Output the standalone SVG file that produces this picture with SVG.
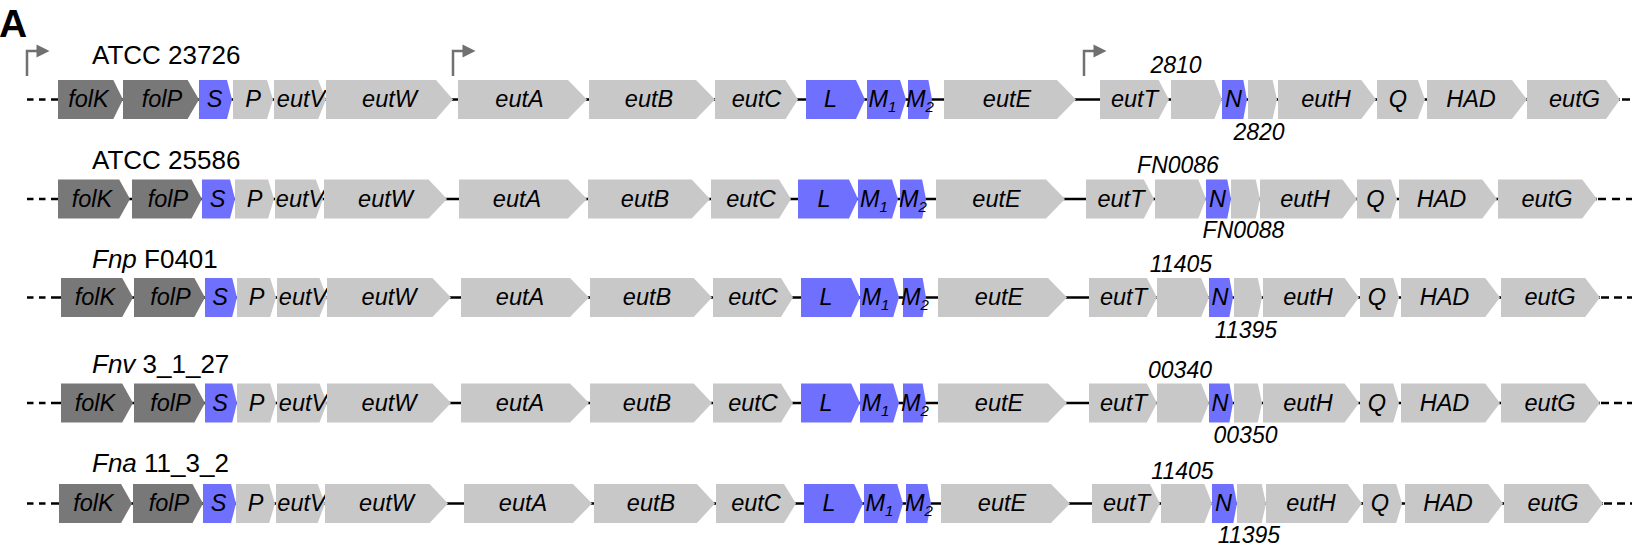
<svg xmlns="http://www.w3.org/2000/svg" width="1632" height="550" viewBox="0 0 1632 550">
  <style>
    .dk { fill: #787878; }
    .lt { fill: #c8c8c8; }
    .bl { fill: #7070ff; }
    .g { font-family: "Liberation Sans", Arial, sans-serif; font-style: italic; font-size: 23.5px; text-anchor: middle; fill: #000; }
    .sub { font-size: 15px; }
    .strain { font-family: "Liberation Sans", Arial, sans-serif; font-size: 26px; fill: #000; }
    .it { font-style: italic; }
    .locus { font-family: "Liberation Sans", Arial, sans-serif; font-style: italic; font-size: 23px; text-anchor: middle; fill: #000; }
    .panel { font-family: "Liberation Sans", Arial, sans-serif; font-weight: bold; font-size: 39px; fill: #000; }
    .bb { stroke: #000; stroke-width: 2.5; fill: none; }
    .prom { stroke: #707070; stroke-width: 2.5; fill: none; }
    .promhead { fill: #707070; }
  </style>

  <text class="panel" x="-1" y="36.5">A</text>

  <!-- transcription start sites (row 1 only) -->
  <g id="promoters">
    <path class="prom" d="M27,76 V51 H37"/>
    <polygon class="promhead" points="36.5,44.5 49.5,51 36.5,57.5"/>
    <path class="prom" d="M453,76 V51 H463"/>
    <polygon class="promhead" points="462.5,44.5 475.5,51 462.5,57.5"/>
    <path class="prom" d="M1084,76 V51 H1094"/>
    <polygon class="promhead" points="1093.5,44.5 1106.5,51 1093.5,57.5"/>
  </g>

  <!-- backbone lines and dashed ends for each locus -->
  <g id="connectors">
    <g transform="translate(0,80)">
      <path class="bb" d="M58,19.5 H1620"/>
      <path class="bb" d="M27,19.5h6.5 M39,19.5h6.5 M51,19.5H58"/>
      <path class="bb" d="M1622,19.5h8"/>
    </g>
    <g transform="translate(0,179.5)">
      <path class="bb" d="M58,19.5 H1597"/>
      <path class="bb" d="M27,19.5h6.5 M39,19.5h6.5 M51,19.5H58"/>
      <path class="bb" d="M1598,19.5h8 M1612,19.5h8 M1626,19.5H1632"/>
    </g>
    <g transform="translate(0,278)">
      <path class="bb" d="M61,19.5 H1600"/>
      <path class="bb" d="M27,19.5h6.5 M39,19.5h6.5 M51,19.5H61"/>
      <path class="bb" d="M1601,19.5h8 M1614,19.5h8 M1627,19.5H1632"/>
    </g>
    <g transform="translate(0,383.5)">
      <path class="bb" d="M61,19.5 H1600"/>
      <path class="bb" d="M27,19.5h6.5 M39,19.5h6.5 M51,19.5H61"/>
      <path class="bb" d="M1601,19.5h8 M1614,19.5h8 M1627,19.5H1632"/>
    </g>
    <g transform="translate(0,484)">
      <path class="bb" d="M59,19.5 H1603"/>
      <path class="bb" d="M27,19.5h6.5 M39,19.5h6.5 M51,19.5H59"/>
      <path class="bb" d="M1604,19.5h8 M1617,19.5h8 M1630,19.5H1632"/>
    </g>
  </g>

  <!-- locus 1: ATCC 23726 -->
  <g id="row1" transform="translate(0,80)">
    <text class="strain" x="92" y="-16">ATCC 23726</text>
    <text class="locus" x="1176" y="-7">2810</text>
    <text class="locus" x="1259" y="60">2820</text>
    <g id="r1-folK"><polygon class="dk" points="58,0 113.3,0 123,19.5 113.3,39 58,39"/><text class="g" x="88.5" y="27">folK</text></g>
    <g id="r1-folP"><polygon class="dk" points="123,0 187.6,0 199,19.5 187.6,39 123,39"/><text class="g" x="162" y="27">folP</text></g>
    <g id="r1-S"><polygon class="bl" points="199,0 227,0 232,19.5 227,39 199,39"/><text class="g" x="214.5" y="27">S</text></g>
    <g id="r1-P"><polygon class="lt" points="233,0 267,0 273,19.5 267,39 233,39"/><text class="g" x="253" y="27">P</text></g>
    <g id="r1-eutV"><polygon class="lt" points="274,0 318.2,0 326,19.5 318.2,39 274,39"/><text class="g" x="301" y="27">eutV</text></g>
    <g id="r1-eutW"><polygon class="lt" points="326,0 436,0 453,19.5 436,39 326,39"/><text class="g" x="389.5" y="27">eutW</text></g>
    <g id="r1-eutA"><polygon class="lt" points="458,0 568,0 587,19.5 568,39 458,39"/><text class="g" x="519.5" y="27">eutA</text></g>
    <g id="r1-eutB"><polygon class="lt" points="589,0 696,0 715,19.5 696,39 589,39"/><text class="g" x="649" y="27">eutB</text></g>
    <g id="r1-eutC"><polygon class="lt" points="715,0 785.5,0 798,19.5 785.5,39 715,39"/><text class="g" x="756.5" y="27">eutC</text></g>
    <g id="r1-L"><polygon class="bl" points="806,0 856,0 865,19.5 856,39 806,39"/><text class="g" x="830.5" y="27">L</text></g>
    <g id="r1-M1"><polygon class="bl" points="867,0 900,0 906,19.5 900,39 867,39"/><text class="g" x="882.5" y="27">M<tspan class="sub" dy="5">1</tspan></text></g>
    <g id="r1-M2"><polygon class="bl" points="908,0 928.4,0 932,19.5 928.4,39 908,39"/><text class="g" x="920" y="27">M<tspan class="sub" dy="5">2</tspan></text></g>
    <g id="r1-eutE"><polygon class="lt" points="944,0 1057,0 1076,19.5 1057,39 944,39"/><text class="g" x="1007" y="27">eutE</text></g>
    <g id="r1-eutT"><polygon class="lt" points="1100,0 1158.6,0 1169,19.5 1158.6,39 1100,39"/><text class="g" x="1134.5" y="27">eutT</text></g>
    <g id="r1-2810"><polygon class="lt" points="1171,0 1214.3,0 1222,19.5 1214.3,39 1171,39"/></g>
    <g id="r1-N"><polygon class="bl" points="1222,0 1243.3,0 1247,19.5 1243.3,39 1222,39"/><text class="g" x="1233.5" y="27">N</text></g>
    <g id="r1-2820"><polygon class="lt" points="1248,0 1272.6,0 1277,19.5 1272.6,39 1248,39"/></g>
    <g id="r1-eutH"><polygon class="lt" points="1278,0 1361.3,0 1376,19.5 1361.3,39 1278,39"/><text class="g" x="1326" y="27">eutH</text></g>
    <g id="r1-Q"><polygon class="lt" points="1377,0 1417.8,0 1425,19.5 1417.8,39 1377,39"/><text class="g" x="1398" y="27">Q</text></g>
    <g id="r1-HAD"><polygon class="lt" points="1427,0 1512,0 1527,19.5 1512,39 1427,39"/><text class="g" x="1471" y="27">HAD</text></g>
    <g id="r1-eutG"><polygon class="lt" points="1527,0 1606,0 1620,19.5 1606,39 1527,39"/><text class="g" x="1574.5" y="27">eutG</text></g>
  </g>

  <!-- locus 2: ATCC 25586 -->
  <g id="row2" transform="translate(0,179.5)">
    <text class="strain" x="92" y="-10.5">ATCC 25586</text>
    <text class="locus" x="1178" y="-6.5">FN0086</text>
    <text class="locus" x="1243.5" y="58.5">FN0088</text>
    <g id="r2-folK"><polygon class="dk" points="58,0 119.2,0 130,19.5 119.2,39 58,39"/><text class="g" x="92" y="27">folK</text></g>
    <g id="r2-folP"><polygon class="dk" points="132,0 191.5,0 202,19.5 191.5,39 132,39"/><text class="g" x="168" y="27">folP</text></g>
    <g id="r2-S"><polygon class="bl" points="202,0 230,0 235,19.5 230,39 202,39"/><text class="g" x="217.5" y="27">S</text></g>
    <g id="r2-P"><polygon class="lt" points="235,0 268.1,0 274,19.5 268.1,39 235,39"/><text class="g" x="254.5" y="27">P</text></g>
    <g id="r2-eutV"><polygon class="lt" points="275,0 315.8,0 323,19.5 315.8,39 275,39"/><text class="g" x="300" y="27">eutV</text></g>
    <g id="r2-eutW"><polygon class="lt" points="324,0 428.5,0 447,19.5 428.5,39 324,39"/><text class="g" x="385.5" y="27">eutW</text></g>
    <g id="r2-eutA"><polygon class="lt" points="459,0 568,0 587,19.5 568,39 459,39"/><text class="g" x="517" y="27">eutA</text></g>
    <g id="r2-eutB"><polygon class="lt" points="588,0 691.7,0 710,19.5 691.7,39 588,39"/><text class="g" x="645" y="27">eutB</text></g>
    <g id="r2-eutC"><polygon class="lt" points="711,0 779,0 791,19.5 779,39 711,39"/><text class="g" x="751" y="27">eutC</text></g>
    <g id="r2-L"><polygon class="bl" points="798,0 849,0 858,19.5 849,39 798,39"/><text class="g" x="824" y="27">L</text></g>
    <g id="r2-M1"><polygon class="bl" points="858,0 892,0 898,19.5 892,39 858,39"/><text class="g" x="874" y="27">M<tspan class="sub" dy="5">1</tspan></text></g>
    <g id="r2-M2"><polygon class="bl" points="900,0 922.1,0 926,19.5 922.1,39 900,39"/><text class="g" x="913" y="27">M<tspan class="sub" dy="5">2</tspan></text></g>
    <g id="r2-eutE"><polygon class="lt" points="936,0 1046,0 1065,19.5 1046,39 936,39"/><text class="g" x="996.5" y="27">eutE</text></g>
    <g id="r2-eutT"><polygon class="lt" points="1086,0 1143.8,0 1154,19.5 1143.8,39 1086,39"/><text class="g" x="1121" y="27">eutT</text></g>
    <g id="r2-FN0086"><polygon class="lt" points="1155,0 1198.3,0 1206,19.5 1198.3,39 1155,39"/></g>
    <g id="r2-N"><polygon class="bl" points="1206,0 1227.3,0 1231,19.5 1227.3,39 1206,39"/><text class="g" x="1217.5" y="27">N</text></g>
    <g id="r2-FN0088"><polygon class="lt" points="1231,0 1255.7,0 1260,19.5 1255.7,39 1231,39"/></g>
    <g id="r2-eutH"><polygon class="lt" points="1260,0 1342.5,0 1357,19.5 1342.5,39 1260,39"/><text class="g" x="1305" y="27">eutH</text></g>
    <g id="r2-Q"><polygon class="lt" points="1357,0 1391,0 1397,19.5 1391,39 1357,39"/><text class="g" x="1375.5" y="27">Q</text></g>
    <g id="r2-HAD"><polygon class="lt" points="1399,0 1482.3,0 1497,19.5 1482.3,39 1399,39"/><text class="g" x="1441.5" y="27">HAD</text></g>
    <g id="r2-eutG"><polygon class="lt" points="1498,0 1582.2,0 1597,19.5 1582.2,39 1498,39"/><text class="g" x="1547" y="27">eutG</text></g>
  </g>

  <!-- locus 3: Fnp F0401 -->
  <g id="row3" transform="translate(0,278)">
    <text class="strain" x="92" y="-10"><tspan class="it">Fnp</tspan> F0401</text>
    <text class="locus" x="1181" y="-6">11405</text>
    <text class="locus" x="1246" y="60">11395</text>
    <g id="r3-folK"><polygon class="dk" points="61,0 122.2,0 133,19.5 122.2,39 61,39"/><text class="g" x="95" y="27">folK</text></g>
    <g id="r3-folP"><polygon class="dk" points="134,0 194.4,0 205,19.5 194.4,39 134,39"/><text class="g" x="170.5" y="27">folP</text></g>
    <g id="r3-S"><polygon class="bl" points="205,0 232.2,0 237,19.5 232.2,39 205,39"/><text class="g" x="220" y="27">S</text></g>
    <g id="r3-P"><polygon class="lt" points="237,0 270.2,0 276,19.5 270.2,39 237,39"/><text class="g" x="256.5" y="27">P</text></g>
    <g id="r3-eutV"><polygon class="lt" points="277,0 319.5,0 327,19.5 319.5,39 277,39"/><text class="g" x="303" y="27">eutV</text></g>
    <g id="r3-eutW"><polygon class="lt" points="327,0 432.4,0 451,19.5 432.4,39 327,39"/><text class="g" x="389" y="27">eutW</text></g>
    <g id="r3-eutA"><polygon class="lt" points="461,0 570,0 589,19.5 570,39 461,39"/><text class="g" x="520" y="27">eutA</text></g>
    <g id="r3-eutB"><polygon class="lt" points="590,0 693.7,0 712,19.5 693.7,39 590,39"/><text class="g" x="647" y="27">eutB</text></g>
    <g id="r3-eutC"><polygon class="lt" points="713,0 781,0 793,19.5 781,39 713,39"/><text class="g" x="753" y="27">eutC</text></g>
    <g id="r3-L"><polygon class="bl" points="801,0 851.2,0 860,19.5 851.2,39 801,39"/><text class="g" x="826" y="27">L</text></g>
    <g id="r3-M1"><polygon class="bl" points="860,0 893.2,0 899,19.5 893.2,39 860,39"/><text class="g" x="875.5" y="27">M<tspan class="sub" dy="5">1</tspan></text></g>
    <g id="r3-M2"><polygon class="bl" points="903,0 922.6,0 926,19.5 922.6,39 903,39"/><text class="g" x="915" y="27">M<tspan class="sub" dy="5">2</tspan></text></g>
    <g id="r3-eutE"><polygon class="lt" points="938,0 1048,0 1067,19.5 1048,39 938,39"/><text class="g" x="999" y="27">eutE</text></g>
    <g id="r3-eutT"><polygon class="lt" points="1089,0 1146.8,0 1157,19.5 1146.8,39 1089,39"/><text class="g" x="1123.5" y="27">eutT</text></g>
    <g id="r3-11405"><polygon class="lt" points="1157,0 1201.2,0 1209,19.5 1201.2,39 1157,39"/></g>
    <g id="r3-N"><polygon class="bl" points="1209,0 1229.4,0 1233,19.5 1229.4,39 1209,39"/><text class="g" x="1220" y="27">N</text></g>
    <g id="r3-11395"><polygon class="lt" points="1234,0 1257.8,0 1262,19.5 1257.8,39 1234,39"/></g>
    <g id="r3-eutH"><polygon class="lt" points="1263,0 1344.6,0 1359,19.5 1344.6,39 1263,39"/><text class="g" x="1308" y="27">eutH</text></g>
    <g id="r3-Q"><polygon class="lt" points="1360,0 1393.2,0 1399,19.5 1393.2,39 1360,39"/><text class="g" x="1377" y="27">Q</text></g>
    <g id="r3-HAD"><polygon class="lt" points="1401,0 1485.2,0 1500,19.5 1485.2,39 1401,39"/><text class="g" x="1444.5" y="27">HAD</text></g>
    <g id="r3-eutG"><polygon class="lt" points="1501,0 1585.2,0 1600,19.5 1585.2,39 1501,39"/><text class="g" x="1550" y="27">eutG</text></g>
  </g>

  <!-- locus 4: Fnv 3_1_27 -->
  <g id="row4" transform="translate(0,383.5)">
    <text class="strain" x="92" y="-10.8"><tspan class="it">Fnv</tspan> 3_1_27</text>
    <text class="locus" x="1180" y="-5.5">00340</text>
    <text class="locus" x="1245.5" y="59.5">00350</text>
    <g id="r4-folK"><polygon class="dk" points="61,0 122.2,0 133,19.5 122.2,39 61,39"/><text class="g" x="95" y="27">folK</text></g>
    <g id="r4-folP"><polygon class="dk" points="134,0 194.4,0 205,19.5 194.4,39 134,39"/><text class="g" x="170.5" y="27">folP</text></g>
    <g id="r4-S"><polygon class="bl" points="205,0 232.2,0 237,19.5 232.2,39 205,39"/><text class="g" x="220" y="27">S</text></g>
    <g id="r4-P"><polygon class="lt" points="237,0 270.2,0 276,19.5 270.2,39 237,39"/><text class="g" x="256.5" y="27">P</text></g>
    <g id="r4-eutV"><polygon class="lt" points="277,0 319.5,0 327,19.5 319.5,39 277,39"/><text class="g" x="303" y="27">eutV</text></g>
    <g id="r4-eutW"><polygon class="lt" points="327,0 432.4,0 451,19.5 432.4,39 327,39"/><text class="g" x="389" y="27">eutW</text></g>
    <g id="r4-eutA"><polygon class="lt" points="461,0 570,0 589,19.5 570,39 461,39"/><text class="g" x="520" y="27">eutA</text></g>
    <g id="r4-eutB"><polygon class="lt" points="590,0 693.7,0 712,19.5 693.7,39 590,39"/><text class="g" x="647" y="27">eutB</text></g>
    <g id="r4-eutC"><polygon class="lt" points="713,0 781,0 793,19.5 781,39 713,39"/><text class="g" x="753" y="27">eutC</text></g>
    <g id="r4-L"><polygon class="bl" points="801,0 851.2,0 860,19.5 851.2,39 801,39"/><text class="g" x="826" y="27">L</text></g>
    <g id="r4-M1"><polygon class="bl" points="860,0 893.2,0 899,19.5 893.2,39 860,39"/><text class="g" x="875.5" y="27">M<tspan class="sub" dy="5">1</tspan></text></g>
    <g id="r4-M2"><polygon class="bl" points="903,0 922.6,0 926,19.5 922.6,39 903,39"/><text class="g" x="915" y="27">M<tspan class="sub" dy="5">2</tspan></text></g>
    <g id="r4-eutE"><polygon class="lt" points="938,0 1048,0 1067,19.5 1048,39 938,39"/><text class="g" x="999" y="27">eutE</text></g>
    <g id="r4-eutT"><polygon class="lt" points="1089,0 1146.8,0 1157,19.5 1146.8,39 1089,39"/><text class="g" x="1123.5" y="27">eutT</text></g>
    <g id="r4-00340"><polygon class="lt" points="1157,0 1201.2,0 1209,19.5 1201.2,39 1157,39"/></g>
    <g id="r4-N"><polygon class="bl" points="1209,0 1229.4,0 1233,19.5 1229.4,39 1209,39"/><text class="g" x="1220" y="27">N</text></g>
    <g id="r4-00350"><polygon class="lt" points="1234,0 1257.8,0 1262,19.5 1257.8,39 1234,39"/></g>
    <g id="r4-eutH"><polygon class="lt" points="1263,0 1344.6,0 1359,19.5 1344.6,39 1263,39"/><text class="g" x="1308" y="27">eutH</text></g>
    <g id="r4-Q"><polygon class="lt" points="1360,0 1393.2,0 1399,19.5 1393.2,39 1360,39"/><text class="g" x="1377" y="27">Q</text></g>
    <g id="r4-HAD"><polygon class="lt" points="1401,0 1485.2,0 1500,19.5 1485.2,39 1401,39"/><text class="g" x="1444.5" y="27">HAD</text></g>
    <g id="r4-eutG"><polygon class="lt" points="1501,0 1585.2,0 1600,19.5 1585.2,39 1501,39"/><text class="g" x="1550" y="27">eutG</text></g>
  </g>

  <!-- locus 5: Fna 11_3_2 -->
  <g id="row5" transform="translate(0,484)">
    <text class="strain" x="92" y="-12"><tspan class="it">Fna</tspan> 11_3_2</text>
    <text class="locus" x="1182.5" y="-5">11405</text>
    <text class="locus" x="1249" y="59">11395</text>
    <g id="r5-folK"><polygon class="dk" points="59,0 121.1,0 132,19.5 121.1,39 59,39"/><text class="g" x="93.5" y="27">folK</text></g>
    <g id="r5-folP"><polygon class="dk" points="133,0 192.5,0 203,19.5 192.5,39 133,39"/><text class="g" x="169" y="27">folP</text></g>
    <g id="r5-S"><polygon class="bl" points="203,0 231,0 236,19.5 231,39 203,39"/><text class="g" x="218.5" y="27">S</text></g>
    <g id="r5-P"><polygon class="lt" points="236,0 269.2,0 275,19.5 269.2,39 236,39"/><text class="g" x="255.5" y="27">P</text></g>
    <g id="r5-eutV"><polygon class="lt" points="276,0 317.7,0 325,19.5 317.7,39 276,39"/><text class="g" x="301.5" y="27">eutV</text></g>
    <g id="r5-eutW"><polygon class="lt" points="325,0 429.6,0 448,19.5 429.6,39 325,39"/><text class="g" x="386.5" y="27">eutW</text></g>
    <g id="r5-eutA"><polygon class="lt" points="464,0 573,0 592,19.5 573,39 464,39"/><text class="g" x="523" y="27">eutA</text></g>
    <g id="r5-eutB"><polygon class="lt" points="594,0 696.9,0 715,19.5 696.9,39 594,39"/><text class="g" x="651" y="27">eutB</text></g>
    <g id="r5-eutC"><polygon class="lt" points="716,0 784,0 796,19.5 784,39 716,39"/><text class="g" x="756" y="27">eutC</text></g>
    <g id="r5-L"><polygon class="bl" points="804,0 854.2,0 863,19.5 854.2,39 804,39"/><text class="g" x="829" y="27">L</text></g>
    <g id="r5-M1"><polygon class="bl" points="864,0 897.2,0 903,19.5 897.2,39 864,39"/><text class="g" x="879.5" y="27">M<tspan class="sub" dy="5">1</tspan></text></g>
    <g id="r5-M2"><polygon class="bl" points="906,0 927.3,0 931,19.5 927.3,39 906,39"/><text class="g" x="919" y="27">M<tspan class="sub" dy="5">2</tspan></text></g>
    <g id="r5-eutE"><polygon class="lt" points="941,0 1051,0 1070,19.5 1051,39 941,39"/><text class="g" x="1002" y="27">eutE</text></g>
    <g id="r5-eutT"><polygon class="lt" points="1092,0 1149.8,0 1160,19.5 1149.8,39 1092,39"/><text class="g" x="1126.5" y="27">eutT</text></g>
    <g id="r5-11405"><polygon class="lt" points="1161,0 1204.4,0 1212,19.5 1204.4,39 1161,39"/></g>
    <g id="r5-N"><polygon class="bl" points="1212,0 1233.3,0 1237,19.5 1233.3,39 1212,39"/><text class="g" x="1223.5" y="27">N</text></g>
    <g id="r5-11395"><polygon class="lt" points="1237,0 1261.7,0 1266,19.5 1261.7,39 1237,39"/></g>
    <g id="r5-eutH"><polygon class="lt" points="1266,0 1347.6,0 1362,19.5 1347.6,39 1266,39"/><text class="g" x="1311" y="27">eutH</text></g>
    <g id="r5-Q"><polygon class="lt" points="1363,0 1396.2,0 1402,19.5 1396.2,39 1363,39"/><text class="g" x="1380" y="27">Q</text></g>
    <g id="r5-HAD"><polygon class="lt" points="1405,0 1488.3,0 1503,19.5 1488.3,39 1405,39"/><text class="g" x="1448" y="27">HAD</text></g>
    <g id="r5-eutG"><polygon class="lt" points="1504,0 1588.2,0 1603,19.5 1588.2,39 1504,39"/><text class="g" x="1553" y="27">eutG</text></g>
  </g>
</svg>
